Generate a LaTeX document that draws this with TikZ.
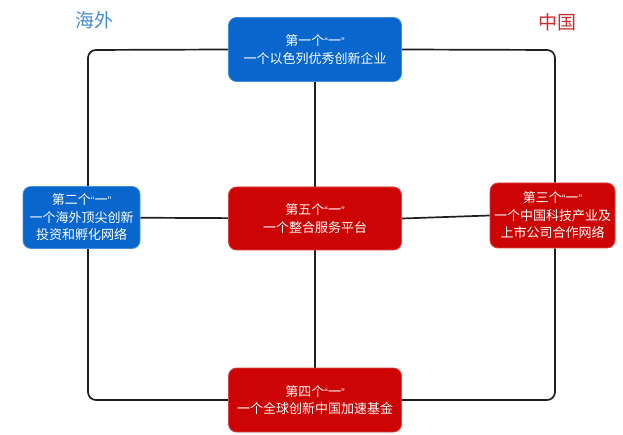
\documentclass[tikz,border=0pt]{standalone}
\usepackage{fontspec}
\setmainfont{Noto Sans CJK SC}
\newfontfamily\latq{Liberation Sans}
\usetikzlibrary{backgrounds}
\definecolor{bxblue}{RGB}{8,102,204}
\definecolor{bxred}{RGB}{204,4,4}
\definecolor{lblblue}{RGB}{70,140,212}
\definecolor{lblred}{RGB}{206,44,44}
\newcommand{\qyi}{{\latq\fontsize{11}{11}\selectfont “}一{\latq\fontsize{11}{11}\selectfont ”}}
\tikzset{
  box/.style={rounded corners=8pt, text=white, align=center,
    font=\fontsize{13}{17.5}\selectfont, inner sep=0pt},
  bluebox/.style={box, fill=bxblue, draw=bxblue!75!white, line width=0.8pt},
  redbox/.style={box, fill=bxred, draw=bxred!75!white, line width=0.8pt},
  conn/.style={draw=black!88, line width=1.7pt, rounded corners=8pt},
  lbl/.style={font=\fontsize{19}{22}\selectfont, inner sep=0pt}
}
\begin{document}
\begin{tikzpicture}[x=1pt,y=-1pt]
\useasboundingbox (0,0) rectangle (623,435);
\node[bluebox, minimum width=173pt, minimum height=64pt] (top) at (315,49.5) {第一个\qyi\\一个以色列优秀创新企业};
\node[bluebox, minimum width=117pt, minimum height=62pt] (left) at (81.5,217.5) {第二个\qyi\\一个海外顶尖创新\\投资和孵化网络};
\node[redbox, minimum width=173pt, minimum height=63pt] (center) at (315,218.5) {第五个\qyi\\一个整合服务平台};
\node[redbox, minimum width=125pt, minimum height=65pt] (right) at (552.5,215.5) {第三个\qyi\\一个中国科技产业及\\上市公司合作网络};
\node[redbox, minimum width=173pt, minimum height=64pt] (bottom) at (315,400) {第四个\qyi\\一个全球创新中国加速基金};
\node[lbl, text=lblblue] (hw) at (94.5,20) {海外};
\node[lbl, text=lblred] (zg) at (557.5,22) {中国};
\coordinate (tl) at (88,50);
\coordinate (tr) at (555,50);
\coordinate (bl) at (88,400);
\coordinate (br) at (555,400);
\begin{scope}[on background layer]
\draw[conn] (top.west) -- (tl) -- (tl |- left.north);
\draw[conn] (tl |- left.south) -- (bl) -- (bottom.west);
\draw[conn] (bottom.east) -- (br) -- (br |- right.south);
\draw[conn] (br |- right.north) -- (tr) -- (top.east);
\draw[conn] (top) -- (center);
\draw[conn] (center) -- (bottom);
\draw[conn] (left) -- (center);
\draw[conn] (center.east) -- (right.west);
\end{scope}
\end{tikzpicture}
\end{document}
